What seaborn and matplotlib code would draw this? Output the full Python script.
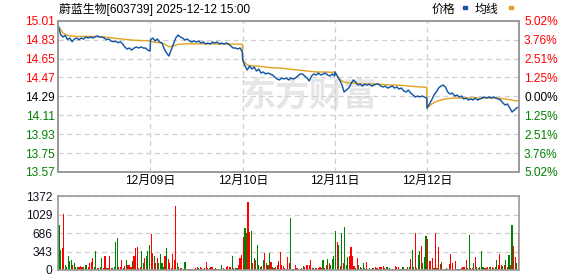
import matplotlib
matplotlib.use("Agg")
import matplotlib.pyplot as plt
from matplotlib.patches import Rectangle
import numpy as np
import pandas as pd
import seaborn as sns

# ---------------- data ----------------
title = "蔚蓝生物[603739] 2025-12-12 15:00"
legend_labels = ["价格", "均线"]
watermark = "东方财富"
day_labels = ["12月09日", "12月10日", "12月11日", "12月12日"]

price_ticks = [15.01, 14.83, 14.65, 14.47, 14.29, 14.11, 13.93, 13.75, 13.57]
price_tick_labels = ["15.01", "14.83", "14.65", "14.47", "14.29", "14.11", "13.93", "13.75", "13.57"]
pct_tick_labels = ["5.02%", "3.76%", "2.51%", "1.25%", "0.00%", "1.25%", "2.51%", "3.76%", "5.02%"]
volume_ticks = [0, 343, 686, 1029, 1372]
volume_tick_labels = ["0", "343", "686", "1029", "1372"]

# price sampled every 6 minutes (41 points per trading day, 241 minutes per day)
price_d1 = [14.96, 14.88, 14.855, 14.87, 14.83, 14.845, 14.81, 14.835, 14.845, 14.83,
            14.845, 14.835, 14.855, 14.845, 14.855, 14.845, 14.855, 14.865, 14.855, 14.855,
            14.845, 14.83, 14.835, 14.815, 14.81, 14.815, 14.80, 14.81, 14.79, 14.76,
            14.74, 14.75, 14.73, 14.75, 14.76, 14.75, 14.76, 14.75, 14.75, 14.73, 14.72]
price_d2 = [14.826, 14.845, 14.817, 14.836, 14.807, 14.798, 14.741, 14.703, 14.674, 14.731,
            14.788, 14.845, 14.874, 14.855, 14.845, 14.826, 14.836, 14.817, 14.807, 14.817,
            14.807, 14.817, 14.798, 14.807, 14.788, 14.798, 14.788, 14.807, 14.798, 14.807,
            14.788, 14.798, 14.788, 14.798, 14.788, 14.769, 14.75, 14.75, 14.741, 14.75, 14.712]
price_d3 = [14.636, 14.579, 14.541, 14.579, 14.55, 14.569, 14.531, 14.55, 14.512, 14.522,
            14.503, 14.512, 14.503, 14.493, 14.474, 14.455, 14.446, 14.465, 14.455, 14.465,
            14.446, 14.465, 14.455, 14.465, 14.484, 14.503, 14.503, 14.484, 14.465, 14.436,
            14.484, 14.503, 14.493, 14.512, 14.493, 14.503, 14.512, 14.493, 14.484, 14.503, 14.484]
price_d4 = [14.522, 14.484, 14.446, 14.407, 14.331, 14.35, 14.369, 14.407, 14.446, 14.426,
            14.398, 14.407, 14.388, 14.407, 14.398, 14.407, 14.388, 14.398, 14.407, 14.407,
            14.388, 14.379, 14.388, 14.369, 14.379, 14.388, 14.369, 14.379, 14.36, 14.369,
            14.341, 14.331, 14.35, 14.322, 14.303, 14.284, 14.293, 14.284, 14.293, 14.284, 14.274]
price_d5 = [14.179, 14.217, 14.255, 14.303, 14.331, 14.369, 14.388, 14.398, 14.379, 14.331,
            14.312, 14.322, 14.293, 14.303, 14.284, 14.293, 14.265, 14.274, 14.255, 14.265,
            14.255, 14.274, 14.255, 14.265, 14.274, 14.284, 14.274, 14.284, 14.274, 14.284,
            14.274, 14.265, 14.255, 14.227, 14.208, 14.217, 14.179, 14.141, 14.16, 14.179, 14.189]

# average price sampled every 12 minutes (21 points per day)
avg_d1 = [14.96, 14.893, 14.869, 14.864, 14.86, 14.86, 14.86, 14.86, 14.86, 14.858, 14.855,
          14.85, 14.845, 14.839, 14.836, 14.831, 14.826, 14.823, 14.821, 14.82, 14.817]
avg_d2 = [14.815, 14.805, 14.8, 14.788, 14.762, 14.769, 14.784, 14.788, 14.79, 14.79, 14.79,
          14.79, 14.79, 14.79, 14.789, 14.789, 14.788, 14.788, 14.787, 14.787, 14.786]
avg_d3 = [14.636, 14.588, 14.579, 14.579, 14.574, 14.569, 14.564, 14.56, 14.56, 14.555, 14.55,
          14.545, 14.541, 14.536, 14.531, 14.526, 14.522, 14.522, 14.522, 14.52, 14.519]
avg_d4 = [14.522, 14.455, 14.426, 14.417, 14.417, 14.412, 14.407, 14.407, 14.407, 14.407, 14.404,
          14.402, 14.398, 14.398, 14.395, 14.393, 14.388, 14.385, 14.381, 14.379, 14.376]
avg_d5 = [14.179, 14.217, 14.241, 14.255, 14.265, 14.27, 14.274, 14.274, 14.274, 14.274, 14.274,
          14.274, 14.274, 14.274, 14.274, 14.274, 14.271, 14.265, 14.258, 14.25, 14.246]

# volume in 4-minute buckets (60 per day); r = up, g = down
vol_d1 = [845, 381, 413, 1048, 95, 64, 267, 159, 190, 95,
          127, 64, 64, 51, 76, 51, 64, 95, 95, 64,
          127, 152, 222, 51, 349, 32, 32, 51, 222, 44,
          267, 32, 32, 267, 44, 32, 64, 521, 597, 64,
          64, 178, 44, 76, 178, 95, 95, 51, 159, 267,
          413, 425, 44, 64, 362, 127, 216, 254, 349, 457]
dir_d1 = "ggrrgggggr" "gggrrrgggr" "rrrggrrggr" "rgrrrggggr" "rrgrgrrrgr" "rrrrggrggg"
vol_d2 = [667, 318, 254, 127, 222, 127, 305, 127, 64, 254,
          413, 203, 127, 32, 305, 190, 1187, 127, 51, 32,
          32, 19, 140, 13, 13, 13, 13, 19, 19, 32,
          51, 32, 51, 32, 19, 32, 152, 32, 32, 64,
          64, 19, 32, 19, 19, 19, 95, 32, 19, 51,
          76, 64, 51, 267, 32, 44, 44, 95, 222, 286]
dir_d2 = "rrgrrggggr" "grrrrrrggr" "rgggrgrgrr" "rgrrgrrrgr" "rrgrrggrgr" "rrrgrggrrr"
vol_d3 = [622, 775, 698, 1270, 711, 730, 127, 222, 178, 464,
          95, 64, 76, 190, 318, 127, 95, 318, 140, 64,
          32, 64, 95, 159, 330, 95, 76, 32, 19, 235,
          127, 965, 13, 13, 95, 32, 19, 19, 32, 83,
          64, 95, 95, 95, 190, 44, 32, 44, 32, 32,
          64, 44, 178, 32, 95, 203, 127, 95, 203, 267]
dir_d3 = "rggrrgrgrg" "ggrgrgrgrg" "rgrrrrrrgr" "rggrrrgrrg" "rrrrrrggrr" "rrgrrgrggg"
vol_d4 = [730, 527, 457, 76, 686, 127, 806, 95, 235, 254,
          432, 254, 76, 44, 222, 95, 64, 32, 127, 32,
          146, 19, 32, 19, 32, 32, 64, 32, 19, 51,
          51, 76, 32, 51, 64, 32, 13, 13, 13, 83,
          51, 51, 13, 13, 64, 13, 13, 64, 64, 203,
          368, 64, 698, 32, 273, 349, 444, 127, 241, 635]
dir_d4 = "grgrgrgggr" "rrrgrgrggg" "rrggrgrrgr" "rrrgggrgrr" "rrgrgrgrgr" "ggrrggrggg"
vol_d5 = [584, 159, 159, 222, 32, 686, 32, 432, 108, 140,
          19, 13, 32, 19, 108, 298, 127, 13, 159, 19,
          13, 13, 32, 64, 51, 178, 32, 654, 32, 32,
          127, 241, 51, 44, 51, 349, 64, 44, 32, 64,
          64, 64, 64, 32, 64, 178, 95, 298, 95, 83,
          95, 190, 64, 286, 95, 845, 445, 235, 127, 680]
dir_d5 = "rrrrgrrrrg" "grgrrrrgrr" "grgrrrggrr" "grgrgggrrr" "grrgggrrrg" "rgrgrgrrgr"

# ---------------- style ----------------
sns.set_theme(style="white")
plt.rcParams["font.family"] = ["Liberation Sans", "Noto Sans CJK SC", "DejaVu Sans"]
plt.rcParams["axes.unicode_minus"] = False

RED = "#ff0000"
GREEN = "#008000"
BLUE = "#1557a6"
GOLD = "#e2a21c"
SPINE = "#999999"
GRID = "#cfcfcf"
FS = 8.6
MIN_PER_DAY = 241

prices = [price_d1, price_d2, price_d3, price_d4, price_d5]
avgs = [avg_d1, avg_d2, avg_d3, avg_d4, avg_d5]
vols = [vol_d1, vol_d2, vol_d3, vol_d4, vol_d5]
dirs = [dir_d1, dir_d2, dir_d3, dir_d4, dir_d5]

price_df = pd.DataFrame(
    [(d * MIN_PER_DAY + i * 6, p) for d, day in enumerate(prices) for i, p in enumerate(day)],
    columns=["pos", "price"])
avg_df = pd.DataFrame(
    [(d * MIN_PER_DAY + i * 12, p) for d, day in enumerate(avgs) for i, p in enumerate(day)],
    columns=["pos", "avg"])
vol_df = pd.DataFrame(
    [(d * MIN_PER_DAY + j * 4 + 2, v, dirs[d][j]) for d, day in enumerate(vols) for j, v in enumerate(day)],
    columns=["pos", "vol", "dir"])

W, H = 578, 276
fig = plt.figure(figsize=(W / 100, H / 100), dpi=100)
fig.patch.set_facecolor("white")

L, R = 58.3, 519.3
ax = fig.add_axes([L / W, 1 - 172 / H, (R - L) / W, (172 - 20.7) / H])
axv = fig.add_axes([L / W, 1 - 270 / H, (R - L) / W, (270 - 196.3) / H])

xmax = MIN_PER_DAY * 5
boundaries = [MIN_PER_DAY * k for k in range(1, 5)]

# ---------- price panel ----------
ax.text(0.545, 0.5, watermark, transform=ax.transAxes, ha="center", va="center",
        fontsize=24.5, fontweight="bold", color="#e6e6e6", zorder=0.5,
        family=["Noto Sans CJK SC"])

sns.lineplot(data=avg_df, x="pos", y="avg", ax=ax, color=GOLD, linewidth=1.0,
             sort=False, estimator=None, zorder=3)
sns.lineplot(data=price_df, x="pos", y="price", ax=ax, color=BLUE, linewidth=1.05,
             sort=False, estimator=None, zorder=4)

ax.set_xlim(0, xmax)
ax.set_ylim(price_ticks[-1], price_ticks[0])
ax.set_yticks(price_ticks)
ax.set_yticklabels(price_tick_labels)
ax.set_xticks(boundaries)
ax.set_xticklabels(day_labels)
ax.set_xlabel("")
ax.set_ylabel("")
ax.tick_params(axis="y", length=0, pad=2.4, labelsize=FS)
ax.tick_params(axis="x", length=0, pad=2.2, labelsize=FS, labelcolor="#000000")
ax.grid(True, linestyle=(0, (4, 3)), color=GRID, linewidth=0.9)
ax.set_axisbelow(True)
for s in ax.spines.values():
    s.set_color(SPINE)
    s.set_linewidth(1.2)
    s.set_visible(True)


def level_color(i):
    mid = len(price_ticks) // 2
    if i < mid:
        return RED
    if i == mid:
        return "#000000"
    return GREEN


for i, t in enumerate(ax.get_yticklabels()):
    t.set_color(level_color(i))

ax2 = ax.twinx()
ax2.set_ylim(price_ticks[-1], price_ticks[0])
ax2.set_yticks(price_ticks)
ax2.set_yticklabels(pct_tick_labels)
ax2.tick_params(axis="y", length=0, pad=3.4, labelsize=FS)
ax2.grid(False)
for s in ax2.spines.values():
    s.set_color(SPINE)
    s.set_linewidth(1.2)
for i, t in enumerate(ax2.get_yticklabels()):
    t.set_color(level_color(i))

# ---------- volume panel ----------
sns.barplot(data=vol_df, x="pos", y="vol", hue="dir", ax=axv,
            palette={"r": RED, "g": GREEN}, native_scale=True, dodge=False,
            width=0.75, errorbar=None, linewidth=0, saturation=1, legend=False,
            antialiased=False)
axv.set_xlim(0, xmax)
axv.set_ylim(0, volume_ticks[-1])
axv.set_yticks(volume_ticks)
axv.set_yticklabels(volume_tick_labels)
axv.set_xticks([])
axv.set_xlabel("")
axv.set_ylabel("")
axv.tick_params(axis="y", length=0, pad=4.3, labelsize=FS, labelcolor="#111122")
axv.grid(True, axis="y", linestyle=(0, (4, 3)), color=GRID, linewidth=0.9)
axv.grid(False, axis="x")
axv.set_axisbelow(True)
for s in axv.spines.values():
    s.set_color(SPINE)
    s.set_linewidth(1.2)
    s.set_visible(True)

# ---------- header ----------
fig.text(59 / W, 1 - 9 / H, title, ha="left", va="center", fontsize=FS, color="#000000")
fig.text(432 / W, 1 - 10 / H, legend_labels[0], ha="left", va="center", fontsize=FS, color="#000000")
fig.text(475 / W, 1 - 10 / H, legend_labels[1], ha="left", va="center", fontsize=FS, color="#000000")
fig.patches.append(Rectangle((463 / W, 1 - 8.5 / H), 4.5 / W, 2.5 / H,
                             transform=fig.transFigure, color=BLUE, figure=fig))
fig.patches.append(Rectangle((508.5 / W, 1 - 8.5 / H), 4.5 / W, 2.5 / H,
                             transform=fig.transFigure, color=GOLD, figure=fig))

fig.savefig("out.png", dpi=100, facecolor="white")
